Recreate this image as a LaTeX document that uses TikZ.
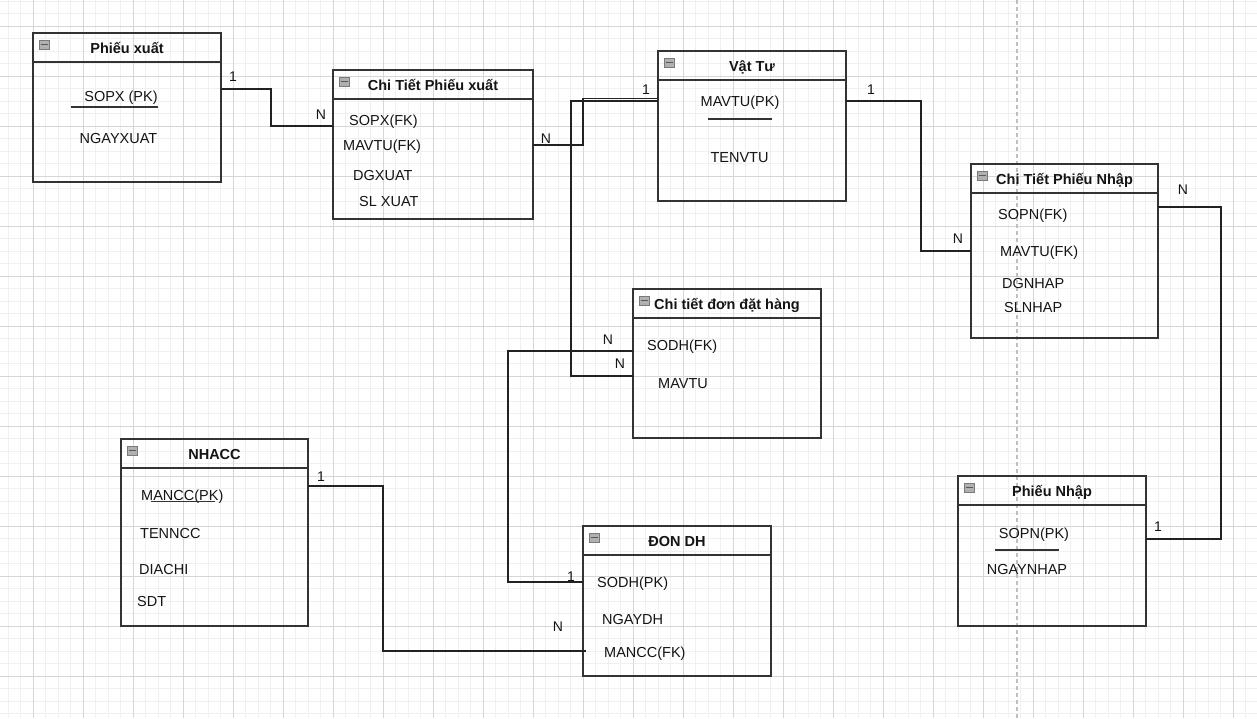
\documentclass[tikz,border=0pt]{standalone}
\usepackage{fontspec}
\setmainfont{Liberation Sans}
\usetikzlibrary{calc}
\definecolor{boxc}{HTML}{333333}
\definecolor{linec}{HTML}{222222}
\definecolor{txt}{HTML}{141414}
\definecolor{gridminor}{HTML}{F0F0F0}
\definecolor{gridmajor}{HTML}{D6D6D6}
\definecolor{iconfill}{HTML}{B0B0B0}
\definecolor{iconedge}{HTML}{7A7A7A}

% one entity: name, left, top, width, height, title
\newcommand\erentity[6]{%
  \node[entity, minimum width=#4pt, minimum height=#5pt] (#1) at (#2,#3) {};
  \draw[boxc, line width=1.5pt] ([yshift=-29pt]#1.north west) -- ([yshift=-29pt]#1.north east);
  \node[ttl] (#1-title) at ($(#1.north)+(0,20)$) {#6};
  \draw[iconedge, fill=iconfill, line width=0.7pt] ([xshift=6pt,yshift=-7pt]#1.north west) rectangle ++(10,9);
  \draw[black!65, line width=1.3pt] ([xshift=7.5pt,yshift=-11.5pt]#1.north west) -- ++(7,0);
}

\begin{document}
\begin{tikzpicture}[x=1pt,y=-1pt,
  entity/.style={draw=boxc, line width=1.5pt, rectangle, inner sep=0pt, outer sep=0pt, anchor=north west},
  ttl/.style={font=\fontsize{14.5}{16}\selectfont\bfseries, text=txt, anchor=base, inner sep=0pt},
  attr/.style={font=\fontsize{14.5}{16}\selectfont, text=txt, anchor=base west, inner sep=0pt},
  attrc/.style={font=\fontsize{14.5}{16}\selectfont, text=txt, anchor=base, inner sep=0pt},
  card/.style={font=\fontsize{14}{16}\selectfont, text=txt, anchor=base, inner sep=0pt},
  link/.style={draw=linec, line width=1.4pt},
  keyline/.style={draw=boxc, line width=1.3pt},
]
\useasboundingbox (0,0) rectangle (1257,718);
\fill[white] (0,0) rectangle (1257,718);

% background grid
\foreach \x in {8,20.5,...,1257} \draw[gridminor, line width=1pt] (\x,0) -- (\x,718);
\foreach \y in {1,13.5,...,718} \draw[gridminor, line width=1pt] (0,\y) -- (1257,\y);
\foreach \x in {33,83,...,1257} \draw[gridmajor, line width=1pt] (\x,0) -- (\x,718);
\foreach \y in {26,76,...,718} \draw[gridmajor, line width=1pt] (0,\y) -- (1257,\y);
\draw[black!25, line width=1.3pt, dash pattern=on 4pt off 3pt] (1017,0) -- (1017,718);

% entities
\erentity{px}{33}{33}{188}{149}{Phiếu xuất}
\erentity{ctpx}{333}{70}{200}{149}{Chi Tiết Phiếu xuất}
\erentity{vt}{658}{51}{188}{150}{Vật Tư}
\erentity{ctpn}{971}{164}{187}{174}{Chi Tiết Phiếu Nhập}
\erentity{ctdh}{633}{289}{188}{149}{Chi tiết đơn đặt hàng}
\erentity{nhacc}{121}{439}{187}{187}{NHACC}
\erentity{dondh}{583}{526}{188}{150}{ĐON DH}
\erentity{pn}{958}{476}{188}{150}{Phiếu Nhập}

% attributes
\node[attrc] (px-a1) at (121,101) {SOPX (PK)};
\draw[keyline] (71,107) -- (158,107);
\node[attrc] (px-a2) at (118.5,143) {NGAYXUAT};

\node[attr] (ctpx-a1) at (349,125) {SOPX(FK)};
\node[attr] (ctpx-a2) at (343,150) {MAVTU(FK)};
\node[attr] (ctpx-a3) at (353,180) {DGXUAT};
\node[attr] (ctpx-a4) at (359,206) {SL XUAT};

\node[attrc] (vt-a1) at (740,106) {MAVTU(PK)};
\draw[keyline] (708,119) -- (772,119);
\node[attrc] (vt-a2) at (739.5,162) {TENVTU};

\node[attr] (ctpn-a1) at (998,219) {SOPN(FK)};
\node[attr] (ctpn-a2) at (1000,256) {MAVTU(FK)};
\node[attr] (ctpn-a3) at (1002,288) {DGNHAP};
\node[attr] (ctpn-a4) at (1004,312) {SLNHAP};

\node[attr] (ctdh-a1) at (647,350) {SODH(FK)};
\node[attr] (ctdh-a2) at (658,388) {MAVTU};

\node[attr] (nhacc-a1) at (141,500) {MANCC(PK)};
\draw[keyline] (151,501.5) -- (215,501.5);
\node[attr] (nhacc-a2) at (140,538) {TENNCC};
\node[attr] (nhacc-a3) at (139,574) {DIACHI};
\node[attr] (nhacc-a4) at (137,606) {SDT};

\node[attr] (dondh-a1) at (597,587) {SODH(PK)};
\node[attr] (dondh-a2) at (602,624) {NGAYDH};
\node[attr] (dondh-a3) at (604,657) {MANCC(FK)};

\node[attrc] (pn-a1) at (1034,538) {SOPN(PK)};
\draw[keyline] (995,550) -- (1059,550);
\node[attrc] (pn-a2) at (1027,574) {NGAYNHAP};

% relationships
\draw[link] ([yshift=-56pt]px.north east) -- ++(50,0) |- ([yshift=-56pt]ctpx.north west);
\draw[link] ([yshift=-75pt]ctpx.north east) -- ++(50,0) |- ([yshift=-47.5pt]vt.north west);
\draw[link] ([yshift=-87pt]ctdh.north west) -- ++(-62,0) |- ([yshift=-50pt]vt.north west);
\draw[link] ([yshift=-50pt]vt.north east) -- ++(75,0) |- ([yshift=-87pt]ctpn.north west);
\draw[link] ([yshift=-43pt]ctpn.north east) -- ++(63,0) |- ([yshift=-63pt]pn.north east);
\draw[link] ([yshift=-56pt]dondh.north west) -- ++(-75,0) |- ([yshift=-62pt]ctdh.north west);
\draw[link] ([yshift=-47pt]nhacc.north east) -- ++(75,0) |- ([xshift=3pt,yshift=-125pt]dondh.north west);

% cardinalities
\node[card] (c1a) at (233,81) {1};
\node[card] (c1b) at (321,119) {N};
\node[card] (c2a) at (546,143) {N};
\node[card] (c2b) at (646,94) {1};
\node[card] (c3a) at (620,368) {N};
\node[card] (c4a) at (871,94) {1};
\node[card] (c4b) at (958,243) {N};
\node[card] (c5a) at (1183,194) {N};
\node[card] (c5b) at (1158,531) {1};
\node[card] (c6a) at (571,581) {1};
\node[card] (c6b) at (608,344) {N};
\node[card] (c7a) at (321,481) {1};
\node[card] (c7b) at (558,631) {N};
\end{tikzpicture}
\end{document}
